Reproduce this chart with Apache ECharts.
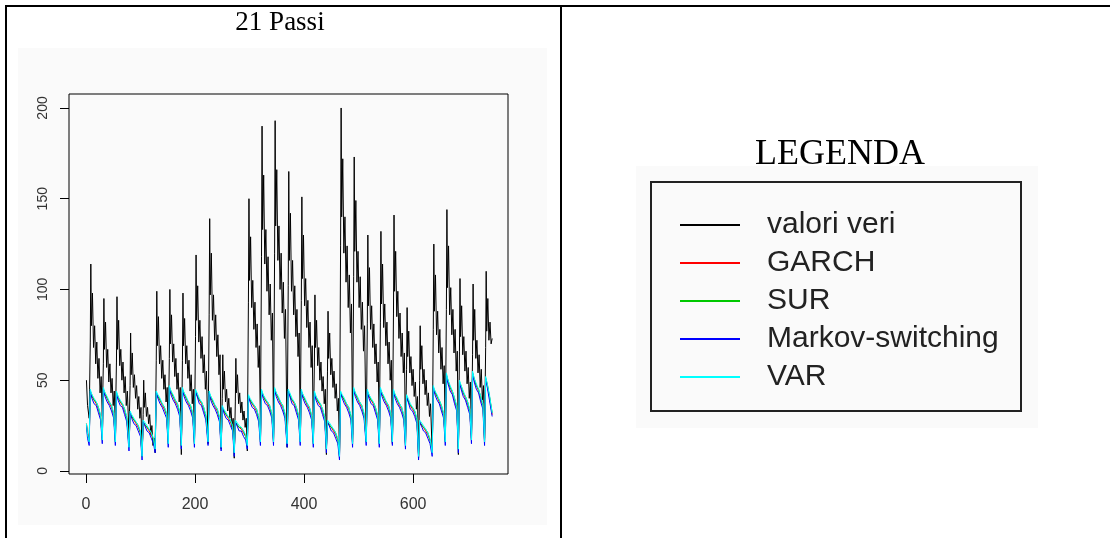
<!DOCTYPE html>
<html>
<head>
<meta charset="utf-8">
<script src="https://cdn.jsdelivr.net/npm/echarts@6/dist/echarts.min.js"></script>
<style>
  html, body { margin: 0; padding: 0; background: #ffffff; }
  #chart { width: 1110px; height: 538px; }
</style>
</head>
<body>
<div id="chart"></div>
<script>
// Time index (days) of the observed series
const t = [
  1, 3,
  6, 8, 9, 10, 12, 14, 16, 18, 20, 22, 24, 26, 28,
  30, 32, 33, 34, 36, 38, 40, 42, 44, 46, 48, 50, 52,
  54, 56, 57, 58, 60, 62, 64, 66, 68, 70, 72, 74, 76,
  79, 81, 82, 83, 85, 87, 89, 91, 93, 95, 97, 99, 101,
  103, 105, 106, 107, 109, 111, 113, 115, 117, 119, 121, 123, 125,
  127, 129, 130, 131, 133, 135, 137, 139, 141, 143, 145, 147, 149,
  151, 153, 154, 155, 157, 159, 161, 163, 165, 167, 169, 171, 173,
  175, 177, 178, 179, 181, 183, 185, 187, 189, 191, 193, 195, 197,
  199, 201, 202, 203, 205, 207, 209, 211, 213, 215, 217, 219, 221,
  224, 226, 227, 228, 230, 232, 234, 236, 238, 240, 242, 244, 246,
  248, 250, 251, 252, 254, 256, 258, 260, 262, 264, 266, 268, 270,
  272, 274, 275, 276, 278, 280, 282, 284, 286, 288, 290, 292, 294,
  296, 298, 299, 300, 302, 304, 306, 308, 310, 312, 314, 316, 318,
  320, 322, 323, 324, 326, 328, 330, 332, 334, 336, 338, 340, 342,
  344, 346, 347, 348, 350, 352, 354, 356, 358, 360, 362, 364, 366,
  369, 371, 372, 373, 375, 377, 379, 381, 383, 385, 387, 389, 391,
  393, 395, 396, 397, 399, 401, 403, 405, 407, 409, 411, 413, 415,
  417, 419, 420, 421, 423, 425, 427, 429, 431, 433, 435, 437, 439,
  441, 443, 444, 445, 447, 449, 451, 453, 455, 457, 459, 461, 463,
  465, 467, 468, 469, 471, 473, 475, 477, 479, 481, 483, 485, 487,
  489, 491, 492, 493, 495, 497, 499, 501, 503, 505, 507, 509, 511,
  514, 516, 517, 518, 520, 522, 524, 526, 528, 530, 532, 534, 536,
  538, 540, 541, 542, 544, 546, 548, 550, 552, 554, 556, 558, 560,
  562, 564, 565, 566, 568, 570, 572, 574, 576, 578, 580, 582, 584,
  586, 588, 589, 590, 592, 594, 596, 598, 600, 602, 604, 606, 608,
  610, 612, 613, 614, 616, 618, 620, 622, 624, 626, 628, 630, 632,
  635, 637, 638, 639, 641, 643, 645, 647, 649, 651, 653, 655, 657,
  659, 661, 662, 663, 665, 667, 669, 671, 673, 675, 677, 679, 681,
  683, 685, 686, 687, 689, 691, 693, 695, 697, 699, 701, 703, 705,
  707, 709, 710, 711, 713, 715, 717, 719, 721, 723, 725, 727, 729,
  731, 733, 734, 735, 737, 739, 741, 743, 745
];

// Observed values ("valori veri")
const valoriVeri = [
  50, 36,
  29, 71, 114, 80, 98, 68, 80, 59, 71, 51, 62, 43, 52,
  30, 59, 95, 67, 82, 57, 67, 49, 59, 43, 51, 36, 44,
  25, 60, 96, 67, 83, 58, 67, 50, 60, 43, 52, 36, 44,
  20, 47, 76, 53, 65, 46, 53, 40, 47, 34, 41, 29, 35,
  8, 31, 50, 35, 43, 30, 35, 26, 31, 20, 25, 14, 18,
  10, 61, 99, 69, 85, 59, 69, 51, 61, 45, 53, 38, 46,
  20, 62, 100, 70, 86, 60, 70, 52, 62, 45, 54, 38, 46,
  9, 61, 98, 69, 84, 59, 69, 51, 61, 44, 53, 37, 45,
  18, 74, 119, 83, 102, 71, 83, 62, 74, 54, 64, 45, 55,
  15, 86, 139, 97, 120, 83, 97, 72, 86, 63, 75, 53, 64,
  12, 40, 64, 45, 55, 38, 45, 33, 40, 29, 35, 24, 29,
  7, 38, 62, 43, 53, 37, 43, 32, 38, 28, 33, 24, 29,
  11, 93, 150, 105, 129, 90, 105, 78, 93, 68, 81, 57, 69,
  25, 118, 190, 133, 163, 114, 133, 99, 118, 86, 103, 72, 87,
  22, 120, 193, 135, 166, 116, 135, 100, 120, 87, 104, 73, 89,
  13, 102, 165, 116, 142, 99, 116, 86, 102, 74, 89, 63, 76,
  22, 94, 151, 106, 130, 91, 106, 79, 94, 68, 82, 57, 69,
  20, 60, 97, 68, 83, 58, 68, 50, 60, 44, 52, 37, 45,
  9, 55, 88, 62, 76, 53, 62, 46, 55, 40, 48, 33, 40,
  8, 124, 200, 140, 172, 120, 140, 104, 124, 90, 108, 76, 92,
  20, 107, 173, 121, 149, 104, 121, 90, 107, 78, 93, 66, 80,
  16, 81, 130, 91, 112, 78, 91, 68, 81, 59, 70, 49, 60,
  20, 82, 132, 92, 114, 79, 92, 69, 82, 59, 71, 50, 61,
  15, 87, 141, 99, 121, 85, 99, 73, 87, 63, 76, 54, 65,
  20, 56, 90, 63, 77, 54, 63, 47, 56, 41, 49, 34, 41,
  7, 50, 80, 56, 69, 48, 56, 42, 50, 36, 43, 30, 37,
  10, 78, 125, 88, 108, 75, 88, 65, 78, 56, 68, 48, 58,
  18, 89, 144, 101, 124, 86, 101, 75, 89, 65, 78, 55, 66,
  9, 66, 106, 74, 91, 64, 74, 55, 66, 48, 57, 40, 49,
  20, 64, 103, 72, 89, 62, 72, 54, 64, 46, 56, 39, 47,
  18, 68, 110, 77, 95, 72, 82, 70, 73
];

// Time index of the 21-step forecasts
const tf = [
  1, 3,
  6, 8, 11, 15, 19, 23, 27,
  30, 32, 35, 39, 43, 47, 51,
  54, 56, 59, 63, 67, 71, 75,
  79, 81, 84, 88, 92, 96, 100,
  103, 105, 108, 112, 116, 120, 124,
  127, 129, 132, 136, 140, 144, 148,
  151, 153, 156, 160, 164, 168, 172,
  175, 177, 180, 184, 188, 192, 196,
  199, 201, 204, 208, 212, 216, 220,
  224, 226, 229, 233, 237, 241, 245,
  248, 250, 253, 257, 261, 265, 269,
  272, 274, 277, 281, 285, 289, 293,
  296, 298, 301, 305, 309, 313, 317,
  320, 322, 325, 329, 333, 337, 341,
  344, 346, 349, 353, 357, 361, 365,
  369, 371, 374, 378, 382, 386, 390,
  393, 395, 398, 402, 406, 410, 414,
  417, 419, 422, 426, 430, 434, 438,
  441, 443, 446, 450, 454, 458, 462,
  465, 467, 470, 474, 478, 482, 486,
  489, 491, 494, 498, 502, 506, 510,
  514, 516, 519, 523, 527, 531, 535,
  538, 540, 543, 547, 551, 555, 559,
  562, 564, 567, 571, 575, 579, 583,
  586, 588, 591, 595, 599, 603, 607,
  610, 612, 615, 619, 623, 627, 631,
  635, 637, 640, 644, 648, 652, 656,
  659, 661, 664, 668, 672, 676, 680,
  683, 685, 688, 692, 696, 700, 704,
  707, 709, 712, 716, 720, 724, 728,
  731, 733, 736, 740, 745
];

const garch = [
  26, 21,
  17, 43, 41, 39, 37, 34, 30,
  18, 44, 42, 40, 37, 35, 31,
  17, 42, 40, 38, 36, 33, 29,
  14, 31, 30, 28, 26, 24, 21,
  9, 26, 26, 24, 22, 20, 17,
  13, 42, 41, 39, 36, 34, 31,
  16, 45, 43, 41, 38, 36, 32,
  15, 44, 42, 40, 37, 35, 31,
  16, 43, 42, 39, 37, 34, 30,
  17, 42, 40, 38, 35, 33, 29,
  14, 34, 33, 31, 29, 27, 24,
  11, 26, 26, 24, 23, 21, 19,
  15, 40, 39, 37, 35, 33, 29,
  17, 43, 41, 39, 37, 35, 31,
  17, 44, 42, 40, 37, 35, 31,
  16, 43, 42, 39, 37, 34, 30,
  17, 43, 41, 39, 36, 34, 30,
  16, 42, 40, 38, 36, 33, 29,
  13, 26, 26, 24, 22, 20, 17,
  9, 42, 41, 39, 36, 34, 30,
  16, 44, 42, 40, 37, 35, 31,
  17, 43, 41, 39, 37, 34, 30,
  16, 44, 42, 40, 37, 35, 31,
  17, 43, 41, 39, 36, 34, 30,
  15, 40, 39, 36, 34, 32, 28,
  9, 26, 26, 24, 22, 20, 17,
  11, 45, 43, 41, 38, 35, 31,
  17, 52, 49, 46, 43, 39, 35,
  13, 48, 46, 43, 40, 37, 33,
  18, 53, 50, 47, 44, 40, 36,
  17, 50, 47, 41, 31
];

const sur = [
  26, 20,
  16, 44, 42, 39, 38, 35, 30,
  17, 45, 43, 40, 38, 36, 31,
  16, 43, 41, 38, 37, 34, 29,
  13, 32, 31, 28, 27, 25, 21,
  8, 27, 27, 24, 23, 21, 17,
  12, 43, 42, 39, 37, 35, 31,
  15, 46, 44, 41, 39, 37, 32,
  14, 45, 43, 40, 38, 36, 31,
  15, 44, 43, 39, 38, 35, 30,
  16, 43, 41, 38, 36, 34, 29,
  13, 35, 34, 31, 30, 28, 24,
  10, 27, 27, 24, 24, 22, 19,
  14, 41, 40, 37, 36, 34, 29,
  16, 44, 42, 39, 38, 36, 31,
  16, 45, 43, 40, 38, 36, 31,
  15, 44, 43, 39, 38, 35, 30,
  16, 44, 42, 39, 37, 35, 30,
  15, 43, 41, 38, 37, 34, 29,
  12, 27, 27, 24, 23, 21, 17,
  8, 43, 42, 39, 37, 35, 30,
  15, 45, 43, 40, 38, 36, 31,
  16, 44, 42, 39, 38, 35, 30,
  15, 45, 43, 40, 38, 36, 31,
  16, 44, 42, 39, 37, 35, 30,
  14, 41, 40, 36, 35, 33, 28,
  8, 27, 27, 24, 23, 21, 17,
  10, 46, 44, 41, 39, 36, 31,
  16, 53, 50, 46, 44, 40, 35,
  12, 49, 47, 43, 41, 38, 33,
  17, 54, 51, 47, 45, 41, 36,
  16, 51, 48, 41, 32
];

const markov = [
  25, 18,
  14, 44, 40, 37, 36, 32, 28,
  15, 45, 41, 38, 36, 33, 29,
  14, 43, 39, 36, 35, 31, 27,
  11, 32, 29, 26, 25, 22, 19,
  6, 27, 25, 22, 21, 18, 15,
  10, 43, 40, 37, 35, 32, 29,
  13, 46, 42, 39, 37, 34, 30,
  12, 45, 41, 38, 36, 33, 29,
  13, 44, 41, 37, 36, 32, 28,
  14, 43, 39, 36, 34, 31, 27,
  11, 35, 32, 29, 28, 25, 22,
  8, 27, 25, 22, 22, 19, 17,
  12, 41, 38, 35, 34, 31, 27,
  14, 44, 40, 37, 36, 33, 29,
  14, 45, 41, 38, 36, 33, 29,
  13, 44, 41, 37, 36, 32, 28,
  14, 44, 40, 37, 35, 32, 28,
  13, 43, 39, 36, 35, 31, 27,
  10, 27, 25, 22, 21, 18, 15,
  6, 43, 40, 37, 35, 32, 28,
  13, 45, 41, 38, 36, 33, 29,
  14, 44, 40, 37, 36, 32, 28,
  13, 45, 41, 38, 36, 33, 29,
  14, 44, 40, 37, 35, 32, 28,
  12, 41, 38, 34, 33, 30, 26,
  6, 27, 25, 22, 21, 18, 15,
  8, 46, 42, 39, 37, 33, 29,
  14, 53, 48, 44, 42, 37, 33,
  10, 49, 45, 41, 39, 35, 31,
  15, 54, 49, 45, 43, 38, 34,
  14, 51, 46, 39, 30
];

const varModel = [
  26, 20,
  16, 45, 42, 40, 38, 35, 31,
  17, 46, 43, 41, 38, 36, 32,
  16, 44, 41, 39, 37, 34, 30,
  13, 33, 31, 29, 27, 25, 22,
  8, 28, 27, 25, 23, 21, 18,
  12, 44, 42, 40, 37, 35, 32,
  15, 47, 44, 42, 39, 37, 33,
  14, 46, 43, 41, 38, 36, 32,
  15, 45, 43, 40, 38, 35, 31,
  16, 44, 41, 39, 36, 34, 30,
  13, 36, 34, 32, 30, 28, 25,
  10, 28, 27, 25, 24, 22, 20,
  14, 42, 40, 38, 36, 34, 30,
  16, 45, 42, 40, 38, 36, 32,
  16, 46, 43, 41, 38, 36, 32,
  15, 45, 43, 40, 38, 35, 31,
  16, 45, 42, 40, 37, 35, 31,
  15, 44, 41, 39, 37, 34, 30,
  12, 28, 27, 25, 23, 21, 18,
  8, 44, 42, 40, 37, 35, 31,
  15, 46, 43, 41, 38, 36, 32,
  16, 45, 42, 40, 38, 35, 31,
  15, 46, 43, 41, 38, 36, 32,
  16, 45, 42, 40, 37, 35, 31,
  14, 42, 40, 37, 35, 33, 29,
  8, 28, 27, 25, 23, 21, 18,
  10, 47, 44, 42, 39, 36, 32,
  16, 54, 50, 47, 44, 40, 36,
  12, 50, 47, 44, 41, 38, 34,
  17, 55, 51, 48, 45, 41, 37,
  16, 52, 48, 42, 32
];

const xTicks = [0, 200, 400, 600];
const yTicks = [0, 50, 100, 150, 200];
const seriesNames = ['valori veri', 'GARCH', 'SUR', 'Markov-switching', 'VAR'];
const seriesColors = ['#000000', '#ff0000', '#00c800', '#0000ff', '#00ffff'];

function pairs(xs, ys) {
  return xs.map((x, i) => [x, ys[i]]);
}

const seriesData = [
  pairs(t, valoriVeri),
  pairs(tf, garch),
  pairs(tf, sur),
  pairs(tf, markov),
  pairs(tf, varModel)
];

const chart = echarts.init(document.getElementById('chart'), null, { renderer: 'canvas' });

const option = {
  animation: false,
  backgroundColor: '#ffffff',
  grid: {
    left: 69, top: 94, width: 439, height: 380,
    show: true, borderColor: '#000000', borderWidth: 1,
    backgroundColor: 'transparent'
  },
  xAxis: {
    type: 'value',
    min: -31, max: 774,
    axisLine: { show: false, onZero: false },
    splitLine: { show: false },
    axisTick: { show: true, length: 9, inside: false, customValues: xTicks,
                lineStyle: { color: '#000000', width: 1 } },
    axisLabel: { customValues: xTicks, margin: 23, fontSize: 16, color: '#333333',
                 fontFamily: 'Liberation Sans' }
  },
  yAxis: {
    type: 'value',
    min: -1.7, max: 207.7,
    axisLine: { show: false, onZero: false },
    splitLine: { show: false },
    axisTick: { show: true, length: 9, inside: false, customValues: yTicks,
                lineStyle: { color: '#000000', width: 1 } },
    axisLabel: { customValues: yTicks, rotate: 90, margin: 19, fontSize: 14, color: '#333333',
                 fontFamily: 'Liberation Sans' }
  },
  legend: {
    data: seriesNames,
    orient: 'vertical',
    left: 675, top: 205,
    icon: 'rect',
    itemWidth: 60, itemHeight: 2,
    itemGap: 8,
    selectedMode: false,
    textStyle: { fontSize: 30, lineHeight: 30, color: '#222222', fontFamily: 'Liberation Sans',
                 padding: [0, 0, 0, 22] }
  },
  graphic: [
    // pale backdrop behind the plot and the legend
    { type: 'rect', z: -10, shape: { x: 18, y: 48, width: 529, height: 477 }, style: { fill: '#fafafa' } },
    { type: 'rect', z: -10, shape: { x: 636, y: 166, width: 402, height: 262 }, style: { fill: '#fafafa' } },
    // table rules
    { type: 'rect', z: 10, shape: { x: 5, y: 5, width: 2, height: 533 }, style: { fill: '#000000' } },
    { type: 'rect', z: 10, shape: { x: 5, y: 5, width: 1105, height: 2 }, style: { fill: '#000000' } },
    { type: 'rect', z: 10, shape: { x: 560, y: 5, width: 2, height: 533 }, style: { fill: '#000000' } },
    // legend frame
    { type: 'rect', z: 5, shape: { x: 651, y: 182, width: 370, height: 229 },
      style: { fill: 'transparent', stroke: '#222222', lineWidth: 2 } },
    // headings
    { type: 'text', z: 10, x: 280, y: 23,
      style: { text: '21 Passi', textAlign: 'center', textVerticalAlign: 'middle',
               font: '27px "Liberation Serif"', fill: '#000000' } },
    { type: 'text', z: 10, x: 840, y: 155,
      style: { text: 'LEGENDA', textAlign: 'center', textVerticalAlign: 'middle',
               font: '36px "Liberation Serif"', fill: '#000000' } }
  ],
  series: seriesNames.map((name, i) => ({
    name: name,
    type: 'line',
    data: seriesData[i],
    showSymbol: false,
    symbol: 'none',
    color: seriesColors[i],
    lineStyle: { color: seriesColors[i], width: 1 },
    emphasis: { disabled: true }
  }))
};

chart.setOption(option);
</script>
</body>
</html>
